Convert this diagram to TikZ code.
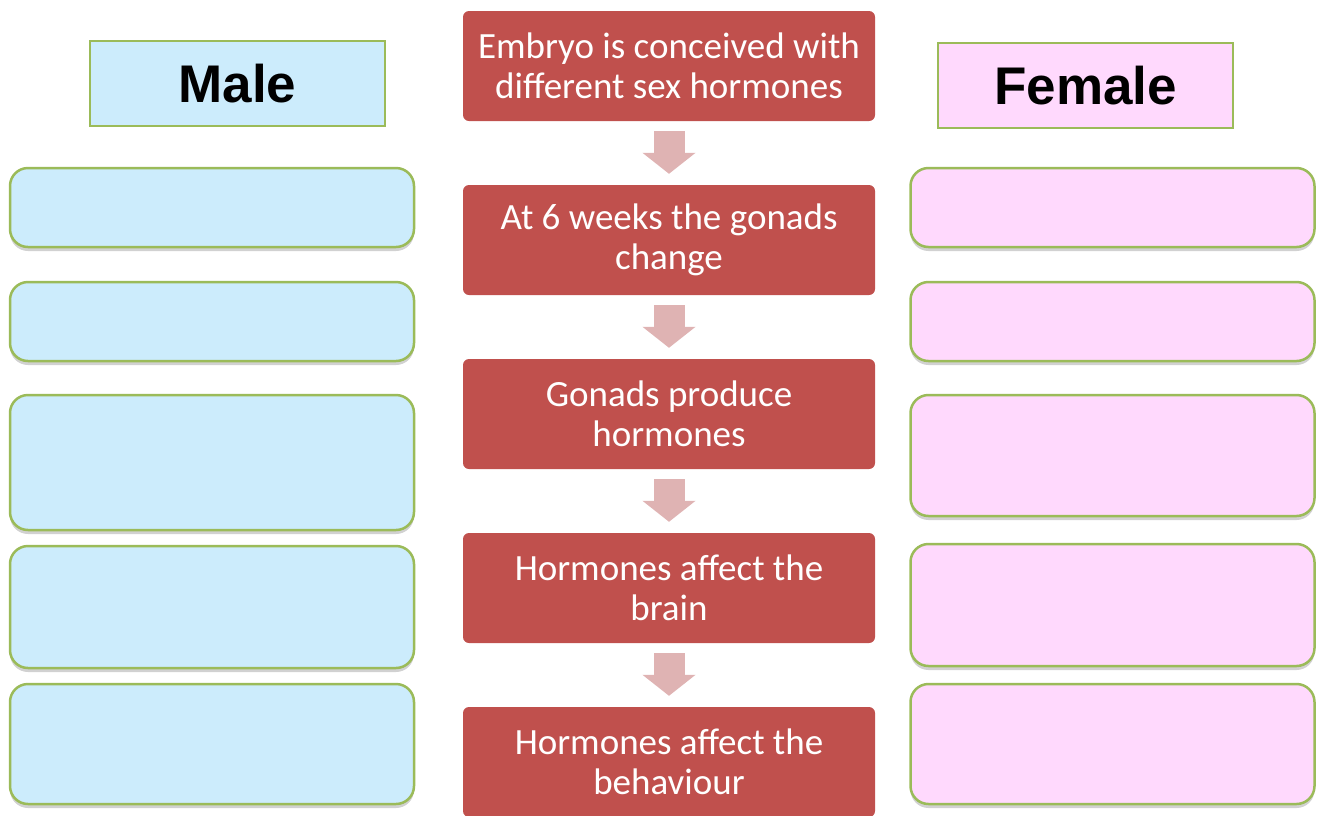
\documentclass[tikz,border=0pt]{standalone}
\usepackage{fontspec}
\setmainfont{Carlito}
\newfontfamily\headfont{Liberation Sans}
\usetikzlibrary{arrows.meta, shadows, positioning}
\definecolor{myred}{RGB}{192, 80, 77}
\definecolor{myblue}{RGB}{204, 236, 252}
\definecolor{mypink}{RGB}{255, 217, 253}
\definecolor{mygreen}{RGB}{155, 187, 89}
\definecolor{myarrow}{RGB}{223, 179, 179}

\tikzset{
  headbox/.style={draw=mygreen, line width=2pt, minimum width=295pt, minimum height=85pt,
    font=\headfont\bfseries\fontsize{53}{60}\selectfont},
  sidebox/.style={draw=mygreen, line width=2.5pt, rounded corners=18pt, minimum width=404pt,
    drop shadow={shadow xshift=0pt, shadow yshift=-4pt, fill=black, opacity=0.18}},
  stepbox/.style={fill=myred, rounded corners=6pt, minimum width=412pt, minimum height=110pt,
    text=white, align=center, font=\fontsize{37}{40}\selectfont},
  downarrow/.style={draw=myarrow, line width=31pt, -{Triangle[width=52pt, length=21pt]},
    shorten <=10pt, shorten >=11pt}
}

\begin{document}
\begin{tikzpicture}[x=1pt, y=-1pt]
\useasboundingbox (0,0) rectangle (1319,815);

%%%%%%%%%% headers
\node[headbox, fill=myblue] (male) at (237.5,83.5) {Male};
\node[headbox, fill=mypink] (female) at (1085.5,85.5) {Female};

%%%%%%%%%% middle column
\node[stepbox] (s1) at (669,66) {Embryo is conceived with\\different sex hormones};
\node[stepbox] (s2) at (669,240) {At 6 weeks the gonads\\change};
\node[stepbox] (s3) at (669,414) {Gonads produce\\hormones};
\node[stepbox] (s4) at (669,588) {Hormones affect the\\brain};
\node[stepbox] (s5) at (669,762) {Hormones affect the\\behaviour};

\foreach \a/\b in {s1/s2, s2/s3, s3/s4, s4/s5}
  \draw[downarrow] (\a.south) -- (\b.north);

%%%%%%%%%% male column
\foreach \n/\y/\h in {1/207.5/79, 2/321.5/79, 3/462.5/135, 4/607/122, 5/744/120}
  \node[sidebox, fill=myblue, minimum height=\h pt] (m\n) at (212,\y) {};

%%%%%%%%%% female column
\foreach \n/\y/\h in {1/207.5/79, 2/321.5/79, 3/455.5/121, 4/605/122, 5/744/120}
  \node[sidebox, fill=mypink, minimum height=\h pt] (f\n) at (1112.5,\y) {};

\end{tikzpicture}
\end{document}
